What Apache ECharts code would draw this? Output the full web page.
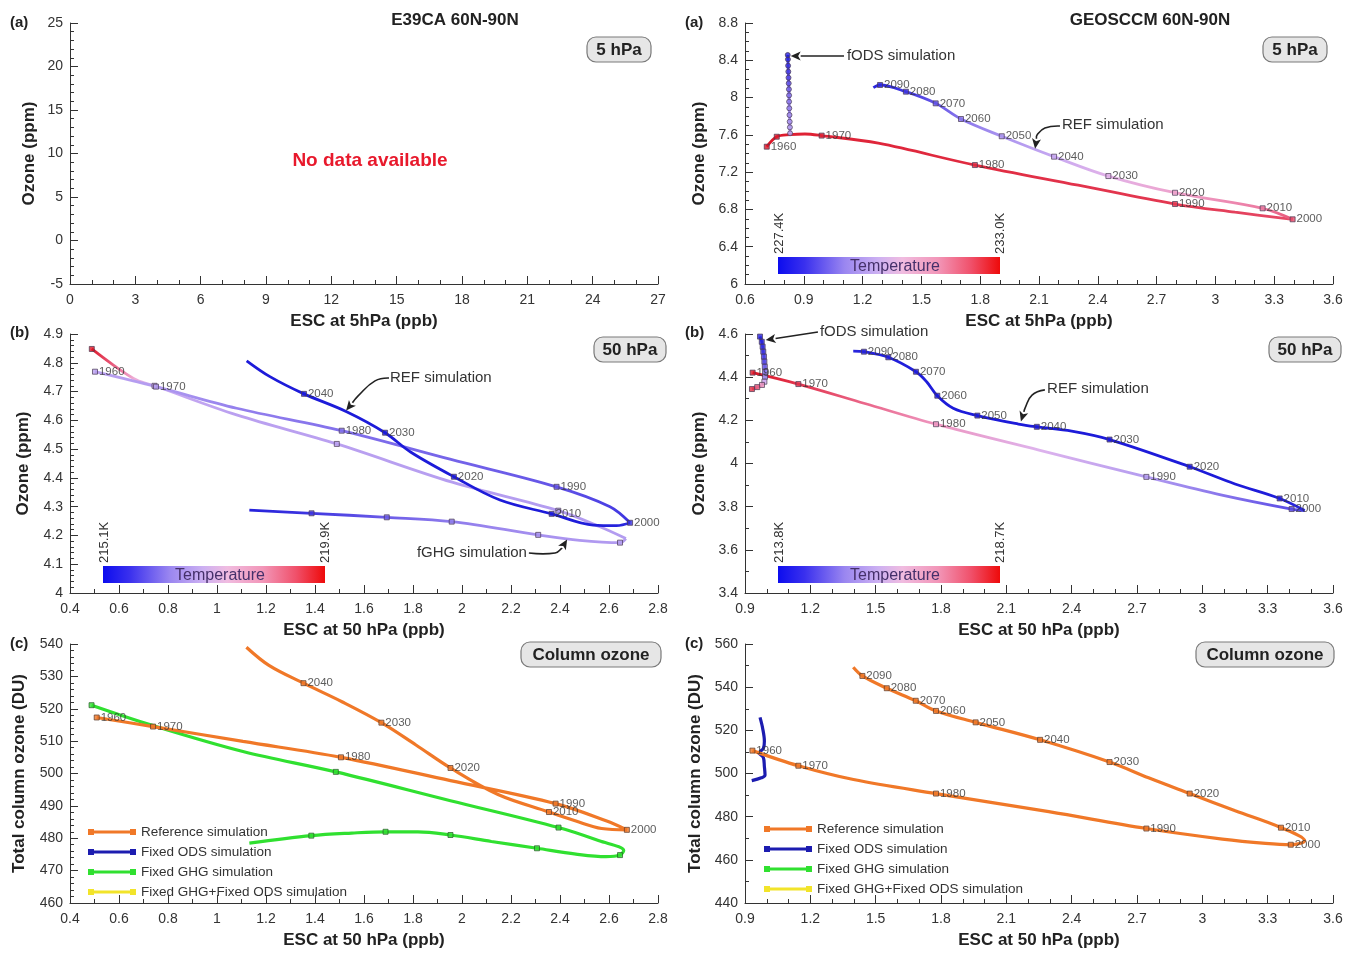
<!DOCTYPE html>
<html>
<head>
<meta charset="utf-8">
<title>ESC vs ozone, 60N-90N</title>
<script src="https://cdn.jsdelivr.net/npm/echarts@6/dist/echarts.min.js"></script>
<style>
  html, body { margin: 0; padding: 0; background: #fff; }
  #chart { width: 1360px; height: 956px; }
</style>
</head>
<body>
<div id="chart"></div>
<script>
// ---------------------------------------------------------------
// Data: each colored point is [ESC, ozone, temperature (0 = cold end
// of the colour bar, 1 = warm end), decade label]. A label of ''
// marks a point drawn with a marker but no text; no label = no marker.
// ---------------------------------------------------------------

// GEOSCCM, 5 hPa
const geo5RefOut = [
  [0.711, 7.473, 1.00, '1960'], [0.762, 7.580, 0.99, ''], [0.830, 7.602, 0.98],
  [0.906, 7.609, 0.97], [0.991, 7.592, 0.97, '1970'], [1.280, 7.510, 0.96],
  [1.773, 7.276, 0.95, '1980'], [2.300, 7.060, 0.93], [2.794, 6.858, 0.92, '1990'],
  [3.100, 6.770, 0.90], [3.394, 6.694, 0.88, '2000']
];
const geo5RefBack = [
  [3.394, 6.694, 0.86], [3.241, 6.812, 0.78, '2010'], [2.794, 6.979, 0.66, '2020'],
  [2.454, 7.158, 0.56, '2030'], [2.177, 7.366, 0.46, '2040'], [1.910, 7.585, 0.38, '2050'],
  [1.702, 7.770, 0.30, '2060'], [1.573, 7.938, 0.22, '2070'], [1.421, 8.063, 0.12, '2080'],
  [1.289, 8.135, 0.07, '2090'], [1.255, 8.106, 0.05]
];
const geo5Fods = [
  [0.830, 7.617, 0.42, ''], [0.829, 7.681, 0.40, ''], [0.828, 7.741, 0.38, ''],
  [0.827, 7.813, 0.36, ''], [0.826, 7.885, 0.34, ''], [0.825, 7.956, 0.32, ''],
  [0.825, 8.024, 0.29, ''], [0.824, 8.089, 0.26, ''], [0.823, 8.153, 0.23, ''],
  [0.822, 8.213, 0.19, ''], [0.821, 8.278, 0.15, ''], [0.820, 8.342, 0.11, ''],
  [0.819, 8.410, 0.07, ''], [0.818, 8.457, 0.04, '']
];

// E39CA, 50 hPa
const e39RefOut50 = [
  [0.502, 4.769, 0.42, '1960'], [0.751, 4.717, 0.40, '1970'], [1.080, 4.642, 0.33],
  [1.509, 4.564, 0.29, '1980'], [1.951, 4.465, 0.26], [2.386, 4.369, 0.22, '1990'],
  [2.604, 4.300, 0.15], [2.686, 4.244, 0.10, '2000']
];
const e39RefBack50 = [
  [2.686, 4.244, 0.08], [2.631, 4.234, 0.05], [2.536, 4.236, 0.03],
  [2.366, 4.275, 0.02, '2010'], [2.155, 4.323, 0.02], [1.967, 4.404, 0.02, '2020'],
  [1.790, 4.490, 0.02], [1.686, 4.557, 0.02, '2030'], [1.529, 4.630, 0.02],
  [1.355, 4.692, 0.02, '2040'], [1.216, 4.752, 0.02], [1.121, 4.807, 0.02]
];
const e39FghgOut50 = [
  [0.489, 4.848, 1.00, ''], [0.577, 4.792, 0.85], [0.672, 4.740, 0.62],
  [0.745, 4.720, 0.47, ''], [1.080, 4.619, 0.42], [1.489, 4.518, 0.42, ''],
  [1.960, 4.385, 0.41], [2.393, 4.286, 0.40, ''], [2.563, 4.230, 0.40], [2.669, 4.189, 0.40]
];
const e39FghgBack50 = [
  [2.669, 4.189, 0.40], [2.645, 4.175, 0.40, ''], [2.480, 4.183, 0.39],
  [2.311, 4.202, 0.37, ''], [1.958, 4.248, 0.32, ''], [1.693, 4.263, 0.24, ''],
  [1.386, 4.277, 0.12, ''], [1.132, 4.288, 0.04]
];

// GEOSCCM, 50 hPa
const geo50RefOut = [
  [0.935, 4.421, 1.00, '1960'], [1.145, 4.368, 0.93, '1970'], [1.450, 4.278, 0.82],
  [1.777, 4.182, 0.70, '1980'], [2.250, 4.062, 0.54], [2.743, 3.938, 0.40, '1990'],
  [3.090, 3.854, 0.30], [3.410, 3.789, 0.20, '2000'], [3.470, 3.782, 0.14]
];
const geo50RefBack = [
  [3.470, 3.782, 0.08], [3.355, 3.838, 0.03, '2010'], [3.150, 3.905, 0.02],
  [2.942, 3.985, 0.02, '2020'], [2.574, 4.111, 0.02, '2030'], [2.400, 4.150, 0.02],
  [2.240, 4.170, 0.02, '2040'], [2.155, 4.183, 0.02], [1.967, 4.222, 0.02, '2050'],
  [1.856, 4.256, 0.02], [1.783, 4.314, 0.02, '2060'], [1.734, 4.379, 0.03],
  [1.685, 4.425, 0.03, '2070'], [1.558, 4.492, 0.04, '2080'], [1.446, 4.518, 0.05, '2090'],
  [1.397, 4.521, 0.06]
];
const geo50Fods = [
  [0.969, 4.588, 0.04, ''], [0.977, 4.564, 0.06, ''], [0.981, 4.541, 0.09, ''],
  [0.984, 4.518, 0.12, ''], [0.987, 4.495, 0.16, ''], [0.989, 4.472, 0.20, ''],
  [0.991, 4.448, 0.25, ''], [0.992, 4.425, 0.30, ''], [0.992, 4.402, 0.36, ''],
  [0.989, 4.379, 0.50, ''], [0.978, 4.364, 0.70, ''], [0.956, 4.354, 0.85, ''],
  [0.932, 4.345, 0.95, '']
];

// Total column ozone: [ESC, DU, decade label]
const e39ColRef = [
  [0.509, 517.3, '1960'], [0.739, 514.5, '1970'], [1.106, 509.9], [1.506, 505.0, '1980'],
  [1.953, 497.8], [2.382, 490.7, '1990'], [2.588, 485.4], [2.673, 482.6, '2000'],
  [2.570, 483.0], [2.465, 485.3], [2.355, 488.1, '2010'], [2.147, 493.5],
  [1.953, 501.7, '2020'], [1.812, 508.8], [1.671, 515.7, '2030'], [1.512, 522.1],
  [1.353, 527.9, '2040'], [1.212, 533.4], [1.120, 539.0]
];
const e39ColFghg = [
  [0.488, 521.1, ''], [0.739, 514.8], [1.106, 506.8], [1.485, 500.5, ''], [1.953, 491.6],
  [2.394, 483.3, ''], [2.560, 479.2], [2.660, 476.2], [2.645, 474.8, ''], [2.588, 474.3],
  [2.465, 475.1], [2.306, 476.9, ''], [2.120, 479.0], [1.953, 481.0, ''], [1.820, 482.0],
  [1.688, 482.0, ''], [1.550, 481.6], [1.385, 480.8, ''], [1.132, 478.5]
];
const geoColRef = [
  [0.934, 510.6, '1960'], [1.145, 503.6, '1970'], [1.398, 497.2], [1.777, 490.7, '1980'],
  [2.295, 482.3], [2.743, 474.5, '1990'], [3.092, 469.6], [3.290, 467.6],
  [3.406, 467.0, '2000'], [3.470, 468.8], [3.361, 474.9, '2010'], [3.151, 482.7],
  [2.942, 490.7, '2020'], [2.753, 498.0], [2.574, 505.3, '2030'], [2.255, 515.6, '2040'],
  [1.959, 523.7, '2050'], [1.777, 529.0, '2060'], [1.684, 533.7, '2070'],
  [1.551, 539.5, '2080'], [1.439, 545.2, '2090'], [1.397, 549.2]
];
const geoColFods = [
  [0.969, 526.0], [0.981, 521.0], [0.989, 515.0], [0.984, 511.5], [0.964, 509.6],
  [0.984, 507.5], [0.989, 503.2], [0.992, 499.3], [0.975, 498.0], [0.931, 496.7]
];

// Axis ranges [min, max, interval] per panel
const xRanges = [[0, 27, 3], [0.6, 3.6, 0.3], [0.4, 2.8, 0.2], [0.9, 3.6, 0.3], [0.4, 2.8, 0.2], [0.9, 3.6, 0.3]];
const yRanges = [[-5, 25, 5], [6, 8.8, 0.4], [4, 4.9, 0.1], [3.4, 4.6, 0.2], [460, 540, 10], [440, 560, 20]];

// Temperature colour bar end values per panel (grid index -> [cold, warm])
const tempRanges = { 1: ['227.4K', '233.0K'], 2: ['215.1K', '219.9K'], 3: ['213.8K', '218.7K'] };

const legendNames = ['Reference simulation', 'Fixed ODS simulation', 'Fixed GHG simulation', 'Fixed GHG+Fixed ODS simulation'];

// Arrowed annotations, in data coordinates of each panel
const annotations = [
  { grid: 1, text: 'fODS simulation', at: [1.120, 8.446], align: 'left', path: [[1.105, 8.446], [0.833, 8.446]] },
  { grid: 1, text: 'REF simulation', at: [2.217, 7.706], align: 'left', path: [[2.207, 7.695], [2.130, 7.673], [2.090, 7.598], [2.080, 7.452]] },
  { grid: 2, text: 'REF simulation', at: [1.706, 4.747], align: 'left', path: [[1.702, 4.747], [1.645, 4.737], [1.576, 4.685], [1.527, 4.634]] },
  { grid: 2, text: 'fGHG simulation', at: [2.265, 4.139], align: 'right', path: [[2.273, 4.139], [2.380, 4.139], [2.408, 4.156], [2.429, 4.186]] },
  { grid: 3, text: 'fODS simulation', at: [1.244, 4.609], align: 'left', path: [[1.235, 4.609], [0.995, 4.572]] },
  { grid: 3, text: 'REF simulation', at: [2.287, 4.345], align: 'left', path: [[2.277, 4.341], [2.218, 4.317], [2.186, 4.257], [2.167, 4.195]] }
];

// ---------------------------------------------------------------
// Layout and styling
// ---------------------------------------------------------------
const FONT = "'Liberation Sans', Arial, Helvetica, sans-serif";
const grids = [
  { left: 70,  top: 23,  width: 588, height: 261 },
  { left: 745, top: 23,  width: 588, height: 261 },
  { left: 70,  top: 334, width: 588, height: 259 },
  { left: 745, top: 334, width: 588, height: 259 },
  { left: 70,  top: 644, width: 588, height: 259 },
  { left: 745, top: 644, width: 588, height: 259 }
];
const xNames = ['ESC at 5hPa (ppb)', 'ESC at 5hPa (ppb)', 'ESC at 50 hPa (ppb)', 'ESC at 50 hPa (ppb)', 'ESC at 50 hPa (ppb)', 'ESC at 50 hPa (ppb)'];
const yNames = ['Ozone (ppm)', 'Ozone (ppm)', 'Ozone (ppm)', 'Ozone (ppm)', 'Total column ozone (DU)', 'Total column ozone (DU)'];
const xMinor = [3, 3, 2, 3, 2, 3];
const yMinor = [5, 4, 5, 2, 5, 2];
const yNameGap = [32, 37, 38, 37, 42, 41];

// colour bar palette: cold (blue) -> lavender -> pink -> warm (red)
const tempPalette = [
  [0.00, '#1616d8'], [0.20, '#5a4ce6'], [0.40, '#b39cf0'], [0.52, '#dab4f2'],
  [0.62, '#eeaed8'], [0.75, '#ee86b0'], [0.88, '#e64a68'], [1.00, '#dc1424']
];
const barPalette = [
  [0.00, '#0c0cee'], [0.12, '#3a30ee'], [0.30, '#9a86f0'], [0.45, '#ccb0f2'],
  [0.56, '#f0bce0'], [0.72, '#f296b8'], [0.87, '#f0506a'], [1.00, '#ee0a0a']
];

function hexRgb(h) { return [1, 3, 5].map(i => parseInt(h.substr(i, 2), 16)); }
function tempColor(t) {
  t = Math.max(0, Math.min(1, t));
  for (let i = 1; i < tempPalette.length; i++) {
    const [o1, c1] = tempPalette[i - 1], [o2, c2] = tempPalette[i];
    if (t <= o2) {
      const f = (t - o1) / (o2 - o1), a = hexRgb(c1), b = hexRgb(c2);
      const c = a.map((v, k) => Math.round(v + (b[k] - v) * f));
      return 'rgb(' + c.join(',') + ')';
    }
  }
  return tempPalette[tempPalette.length - 1][1];
}

// gradient along a branch, stops placed by each point's position
function branchGradient(pts, dir) {
  const vals = pts.map(p => dir === 'x' ? p[0] : p[1]);
  const lo = Math.min(...vals), hi = Math.max(...vals);
  const stops = pts.map(p => ({
    offset: dir === 'x' ? (p[0] - lo) / (hi - lo) : (hi - p[1]) / (hi - lo),
    color: tempColor(p[2])
  })).sort((a, b) => a.offset - b.offset);
  return dir === 'x'
    ? new echarts.graphic.LinearGradient(0, 0, 1, 0, stops)
    : new echarts.graphic.LinearGradient(0, 0, 0, 1, stops);
}

const markerLabel = {
  show: true, position: 'right', distance: 1, formatter: '{b}',
  fontFamily: FONT, fontSize: 11.5, color: '#333'
};

const series = [];
function tempCurve(grid, pts, dir, symbol) {
  series.push({
    type: 'line', xAxisIndex: grid, yAxisIndex: grid, silent: true, z: 2,
    data: pts.map(p => [p[0], p[1]]), smooth: 0.35, symbol: 'none',
    lineStyle: { width: 2.8, color: branchGradient(pts, dir) }
  });
  const marks = pts.filter(p => p.length > 3).map(p => ({
    value: [p[0], p[1]], name: p[3],
    itemStyle: { color: tempColor(p[2]) }
  }));
  if (marks.length) {
    series.push({
      type: 'scatter', xAxisIndex: grid, yAxisIndex: grid, silent: true, z: 3,
      symbol: symbol || 'rect', symbolSize: 5, data: marks,
      itemStyle: { borderColor: '#4a3a55', borderWidth: 0.9 },
      label: markerLabel
    });
  }
}
function plainCurve(grid, pts, name, color, border, withMarks) {
  series.push({
    type: 'line', name: name, xAxisIndex: grid, yAxisIndex: grid, silent: true, z: 2,
    data: pts.map(p => [p[0], p[1]]), smooth: 0.35, symbol: 'none',
    color: color, lineStyle: { width: 3.2, color: color }, itemStyle: { color: color }
  });
  if (withMarks) {
    const marks = pts.filter(p => p.length > 2).map(p => ({ value: [p[0], p[1]], name: p[2] }));
    series.push({
      type: 'scatter', xAxisIndex: grid, yAxisIndex: grid, silent: true, z: 3,
      symbol: 'rect', symbolSize: 5, data: marks,
      itemStyle: { color: color, borderColor: border, borderWidth: 0.9 },
      label: markerLabel
    });
  }
}

// GEOSCCM 5 hPa
tempCurve(1, geo5RefOut, 'x');
tempCurve(1, geo5RefBack, 'x');
tempCurve(1, geo5Fods, 'y', 'circle');
// E39CA 50 hPa
tempCurve(2, e39FghgOut50, 'x');
tempCurve(2, e39FghgBack50, 'x');
tempCurve(2, e39RefOut50, 'x');
tempCurve(2, e39RefBack50, 'x');
// GEOSCCM 50 hPa
tempCurve(3, geo50RefOut, 'x');
tempCurve(3, geo50RefBack, 'x');
tempCurve(3, geo50Fods, 'y');
// column ozone
plainCurve(4, e39ColFghg, 'Fixed GHG simulation', '#30e030', '#2a5a2a', true);
plainCurve(4, e39ColRef, 'Reference simulation', '#f07828', '#5a3a2a', true);
plainCurve(5, geoColFods, 'Fixed ODS simulation', '#1c1cb0', '#1c1cb0', false);
plainCurve(5, geoColRef, 'Reference simulation', '#f07828', '#5a3a2a', true);
series.push({ type: 'line', name: 'Fixed GHG+Fixed ODS simulation', xAxisIndex: 4, yAxisIndex: 4,
  data: [], color: '#f2e42a', itemStyle: { color: '#f2e42a' } });

const axisLine = { show: true, onZero: false, lineStyle: { color: '#333', width: 1 } };
const xAxes = grids.map((g, i) => ({
  type: 'value', gridIndex: i, min: xRanges[i][0], max: xRanges[i][1], interval: xRanges[i][2],
  name: xNames[i], nameLocation: 'middle', nameGap: 29, nameMoveOverlap: false,
  nameTextStyle: { fontFamily: FONT, fontSize: 17, fontWeight: 'bold', color: '#222' },
  axisLine: axisLine,
  axisTick: { show: true, inside: true, length: 8, lineStyle: { color: '#333' } },
  minorTick: { show: true, splitNumber: xMinor[i], length: 4, lineStyle: { color: '#333' } },
  splitLine: { show: false }, minorSplitLine: { show: false },
  axisLabel: { fontFamily: FONT, fontSize: 14, color: '#333', margin: 9, showMinLabel: true, showMaxLabel: true, hideOverlap: false }
}));
const yAxes = grids.map((g, i) => ({
  type: 'value', gridIndex: i, min: yRanges[i][0], max: yRanges[i][1], interval: yRanges[i][2],
  name: yNames[i], nameLocation: 'middle', nameGap: yNameGap[i], nameMoveOverlap: false,
  nameTextStyle: { fontFamily: FONT, fontSize: 17, fontWeight: 'bold', color: '#222' },
  axisLine: axisLine,
  axisTick: { show: true, inside: true, length: 8, lineStyle: { color: '#333' } },
  minorTick: { show: true, splitNumber: yMinor[i], length: 4, lineStyle: { color: '#333' } },
  splitLine: { show: false }, minorSplitLine: { show: false },
  axisLabel: { fontFamily: FONT, fontSize: 14, color: '#333', margin: 7, showMinLabel: true, showMaxLabel: true, hideOverlap: false }
}));

const legendIcon = 'path://M0,0h6v6h-6z M6,1.6h36v2.8h-36z M42,0h6v6h-6z';
function legendAt(left, top) {
  return {
    data: legendNames, orient: 'vertical', left: left, top: top,
    itemWidth: 48, itemHeight: 6, itemGap: 6, icon: legendIcon, selectedMode: false,
    textStyle: { fontFamily: FONT, fontSize: 13.5, color: '#333' }
  };
}

const chart = echarts.init(document.getElementById('chart'), null, { renderer: 'canvas' });
chart.setOption({
  animation: false,
  backgroundColor: '#ffffff',
  textStyle: { fontFamily: FONT },
  grid: grids.map(g => Object.assign({ containLabel: false, outerBoundsMode: 'none' }, g)),
  xAxis: xAxes,
  yAxis: yAxes,
  legend: [legendAt(83, 820), legendAt(759, 817)],
  series: series
});

// ---------------------------------------------------------------
// Texts, badges, colour bars and arrows
// ---------------------------------------------------------------
function txt(x, y, text, o) {
  o = o || {};
  return {
    type: 'text', x: x, y: y, rotation: o.rotation || 0, z: 10, silent: true,
    style: {
      text: text, fontFamily: FONT, fontSize: o.size || 15, fontWeight: o.weight || 'normal',
      fill: o.color || '#222', align: o.align || 'left', verticalAlign: o.valign || 'middle'
    }
  };
}
function badge(x, y, w, h, label) {
  return [
    { type: 'rect', z: 9, silent: true, shape: { x: x, y: y, width: w, height: h, r: 9 },
      style: { fill: '#e6e6e6', stroke: '#7a7a7a', lineWidth: 1.2 } },
    txt(x + w / 2, y + h / 2 + 1, label, { size: 17, weight: 'bold', align: 'center' })
  ];
}

function buildGraphics() {
  const g = [];
  g.push(txt(455, 20, 'E39CA 60N-90N', { size: 17, weight: 'bold', align: 'center' }));
  g.push(txt(1150, 20, 'GEOSCCM 60N-90N', { size: 17, weight: 'bold', align: 'center' }));
  [[10, 23, '(a)'], [685, 23, '(a)'], [10, 333, '(b)'], [685, 333, '(b)'], [10, 644, '(c)'], [685, 644, '(c)']]
    .forEach(p => g.push(txt(p[0], p[1], p[2], { size: 15, weight: 'bold' })));
  g.push(txt(370, 161, 'No data available', { size: 19, weight: 'bold', color: '#e8192c', align: 'center' }));
  g.push(...badge(587, 37, 64, 25, '5 hPa'));
  g.push(...badge(1263, 37, 64, 25, '5 hPa'));
  g.push(...badge(594, 337, 72, 25, '50 hPa'));
  g.push(...badge(1269, 337, 72, 25, '50 hPa'));
  g.push(...badge(521, 642, 140, 25, 'Column ozone'));
  g.push(...badge(1196, 642, 138, 25, 'Column ozone'));

  // temperature colour bars
  Object.keys(tempRanges).forEach(k => {
    const gr = grids[+k];
    const bx = gr.left + 33, by = gr.top + gr.height - 27, bw = 222, bh = 17;
    g.push({ type: 'rect', z: 8, silent: true, shape: { x: bx, y: by, width: bw, height: bh },
      style: { fill: new echarts.graphic.LinearGradient(0, 0, 1, 0,
        barPalette.map(s => ({ offset: s[0], color: s[1] }))) } });
    g.push(txt(bx + bw / 2 + 6, by + bh / 2 + 1, 'Temperature', { size: 16, color: '#45306a', align: 'center' }));
    g.push(txt(bx + 1, by - 3, tempRanges[k][0], { size: 13, color: '#333', rotation: Math.PI / 2 }));
    g.push(txt(bx + bw, by - 3, tempRanges[k][1], { size: 13, color: '#333', rotation: Math.PI / 2 }));
  });

  // arrowed annotations
  annotations.forEach(a => {
    const at = chart.convertToPixel({ gridIndex: a.grid }, a.at);
    g.push(txt(at[0], at[1], a.text, { size: 15, color: '#333', align: a.align }));
    const pts = a.path.map(p => chart.convertToPixel({ gridIndex: a.grid }, p));
    const n = pts.length;
    const tip = pts[n - 1], prev = pts[n - 2];
    const dx = tip[0] - prev[0], dy = tip[1] - prev[1], len = Math.hypot(dx, dy);
    const ux = dx / len, uy = dy / len, L = 10, W = 4.5;
    const base = [tip[0] - ux * L, tip[1] - uy * L];
    const linePts = pts.slice(0, n - 1).concat([base]);
    g.push({ type: 'polyline', z: 10, silent: true, shape: { points: linePts, smooth: n > 2 ? 0.45 : 0 },
      style: { stroke: '#222', lineWidth: 1.6, fill: null } });
    g.push({ type: 'polygon', z: 10, silent: true,
      shape: { points: [tip, [base[0] - uy * W, base[1] + ux * W], [base[0] + ux * 2.5, base[1] + uy * 2.5], [base[0] + uy * W, base[1] - ux * W]] },
      style: { fill: '#222' } });
  });
  return g;
}
chart.setOption({ graphic: buildGraphics() });
</script>
</body>
</html>
